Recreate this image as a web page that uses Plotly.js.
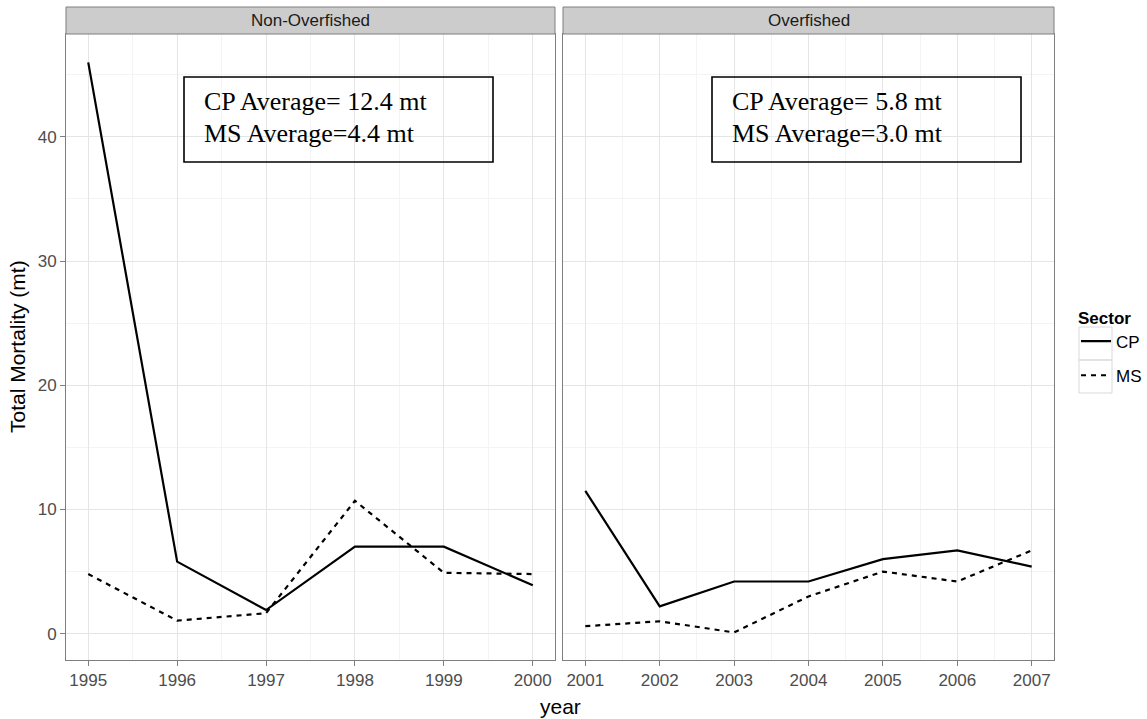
<!DOCTYPE html>
<html>
<head>
<meta charset="utf-8">
<script src="https://cdn.plot.ly/plotly-3.0.1.min.js"></script>
<style>
  html, body { margin: 0; padding: 0; background: #ffffff; }
  #chart { width: 1147px; height: 719px; }
</style>
</head>
<body>
<div id="chart"></div>
<script>
// Total mortality by sector, split into non-overfished and overfished years
const yearsNonOverfished = [1995, 1996, 1997, 1998, 1999, 2000];
const cpNonOverfished = [46.0, 5.8, 1.9, 7.0, 7.0, 3.9];
const msNonOverfished = [4.8, 1.05, 1.65, 10.7, 4.9, 4.8];

const yearsOverfished = [2001, 2002, 2003, 2004, 2005, 2006, 2007];
const cpOverfished = [11.5, 2.2, 4.2, 4.2, 6.0, 6.7, 5.4];
const msOverfished = [0.6, 1.0, 0.1, 3.0, 5.0, 4.2, 6.7];

const panelTitles = ['Non-Overfished', 'Overfished'];
const averageText = [
  ['CP Average= 12.4 mt', 'MS Average=4.4 mt'],
  ['CP Average= 5.8 mt', 'MS Average=3.0 mt']
];
const sectorNames = ['CP', 'MS'];
const yTicks = [0, 10, 20, 30, 40];

const W = 1147, H = 719;
const fx = p => p / W;
const fy = p => 1 - p / H;

const SANS = 'Liberation Sans, Arial, sans-serif';
const SERIF = 'Liberation Serif, Times New Roman, serif';
const TICK = '#4D4D4D';

const cpLine = { color: '#000000', width: 2.2, dash: 'solid' };
const msLine = { color: '#000000', width: 2.2, dash: '5px,5px' };

const traces = [
  { x: yearsNonOverfished, y: cpNonOverfished, name: sectorNames[0], legendgroup: 'CP',
    mode: 'lines', line: cpLine, xaxis: 'x', yaxis: 'y', showlegend: true },
  { x: yearsNonOverfished, y: msNonOverfished, name: sectorNames[1], legendgroup: 'MS',
    mode: 'lines', line: msLine, xaxis: 'x', yaxis: 'y', showlegend: true },
  { x: yearsOverfished, y: cpOverfished, name: sectorNames[0], legendgroup: 'CP',
    mode: 'lines', line: cpLine, xaxis: 'x2', yaxis: 'y2', showlegend: false },
  { x: yearsOverfished, y: msOverfished, name: sectorNames[1], legendgroup: 'MS',
    mode: 'lines', line: msLine, xaxis: 'x2', yaxis: 'y2', showlegend: false }
];

const panelX = [[66, 555], [563, 1054]];
const panelTop = 34, panelBottom = 660, stripTop = 7;
const yDomain = [fy(panelBottom), fy(panelTop)];

function xAxis(domainPx, range, tick0) {
  return {
    domain: [fx(domainPx[0]), fx(domainPx[1])],
    range: range,
    tick0: tick0, dtick: 1,
    ticks: 'outside', ticklen: 5, tickcolor: '#7F7F7F', tickwidth: 1,
    tickfont: { family: SANS, size: 17, color: TICK },
    showgrid: true, gridcolor: '#E5E5E5', gridwidth: 1,
    minor: { dtick: 0.5, tick0: tick0, showgrid: true, gridcolor: '#F4F4F4', gridwidth: 1, ticks: '' },
    showline: true, mirror: true, linecolor: '#7F7F7F', linewidth: 1,
    zeroline: false, fixedrange: true
  };
}

function yAxis(domain, showLabels, anchor) {
  return {
    domain: domain,
    range: [-2.12, 48.28],
    tickvals: yTicks,
    showticklabels: showLabels,
    ticks: showLabels ? 'outside' : '', ticklen: 5, tickcolor: '#7F7F7F', tickwidth: 1,
    tickfont: { family: SANS, size: 17, color: TICK },
    showgrid: true, gridcolor: '#E5E5E5', gridwidth: 1,
    minor: { dtick: 5, tick0: 0, showgrid: true, gridcolor: '#F4F4F4', gridwidth: 1, ticks: '' },
    showline: true, mirror: true, linecolor: '#7F7F7F', linewidth: 1,
    zeroline: false, fixedrange: true, anchor: anchor
  };
}

const shapes = [];
const annotations = [];

// facet strips
panelX.forEach((px, i) => {
  shapes.push({
    type: 'rect', xref: 'paper', yref: 'paper',
    x0: fx(px[0]), x1: fx(px[1]), y0: fy(panelTop), y1: fy(stripTop),
    fillcolor: '#CCCCCC', line: { color: '#7F7F7F', width: 1 }, layer: 'above'
  });
  annotations.push({
    xref: 'paper', yref: 'paper', x: fx((px[0] + px[1]) / 2), y: fy((panelTop + stripTop) / 2),
    text: panelTitles[i], showarrow: false, xanchor: 'center', yanchor: 'middle',
    font: { family: SANS, size: 17, color: '#1A1A1A' }
  });
});

// average boxes
const boxLeft = [184, 712];
boxLeft.forEach((bx, i) => {
  shapes.push({
    type: 'rect', xref: 'paper', yref: 'paper',
    x0: fx(bx), x1: fx(bx + 309), y0: fy(162), y1: fy(77),
    fillcolor: 'rgba(255,255,255,0)', line: { color: '#000000', width: 1.6 }, layer: 'above'
  });
  averageText[i].forEach((t, j) => {
    annotations.push({
      xref: 'paper', yref: 'paper', x: fx(bx + 18), y: fy(j === 0 ? 102 : 133),
      text: t, showarrow: false, xanchor: 'left', yanchor: 'middle',
      font: { family: SERIF, size: 26, color: '#000000' }
    });
  });
});

// axis titles
annotations.push({
  xref: 'paper', yref: 'paper', x: fx(560), y: fy(706),
  text: 'year', showarrow: false, xanchor: 'center', yanchor: 'middle',
  font: { family: SANS, size: 21, color: '#000000' }
});
annotations.push({
  xref: 'paper', yref: 'paper', x: fx(17), y: fy(347),
  text: 'Total Mortality (mt)', showarrow: false, textangle: -90,
  xanchor: 'center', yanchor: 'middle',
  font: { family: SANS, size: 21, color: '#000000' }
});

// legend key boxes
[[327, 360], [360, 393]].forEach(r => {
  shapes.push({
    type: 'rect', xref: 'paper', yref: 'paper',
    x0: fx(1079), x1: fx(1112), y0: fy(r[1]), y1: fy(r[0]),
    fillcolor: 'rgba(255,255,255,0)', line: { color: '#D9D9D9', width: 1 }
  });
});

const layout = {
  width: W, height: H, autosize: false,
  margin: { l: 0, r: 0, t: 0, b: 0, pad: 0 },
  paper_bgcolor: '#FFFFFF', plot_bgcolor: '#FFFFFF',
  xaxis: xAxis(panelX[0], [1994.75, 2000.25], 1995),
  xaxis2: xAxis(panelX[1], [2000.7, 2007.3], 2001),
  yaxis: yAxis(yDomain, true, 'x'),
  yaxis2: yAxis(yDomain, false, 'x2'),
  showlegend: true,
  legend: {
    x: fx(1076), y: fy(301.5), xanchor: 'left', yanchor: 'top',
    traceorder: 'grouped', tracegroupgap: 9,
    title: { text: '<b>Sector</b>', font: { family: SANS, size: 17, color: '#000000' } },
    font: { family: SANS, size: 17, color: '#000000' },
    bgcolor: 'rgba(255,255,255,0)', borderwidth: 0
  },
  shapes: shapes,
  annotations: annotations
};

Plotly.newPlot('chart', traces, layout, { displayModeBar: false, staticPlot: true });
</script>
</body>
</html>
